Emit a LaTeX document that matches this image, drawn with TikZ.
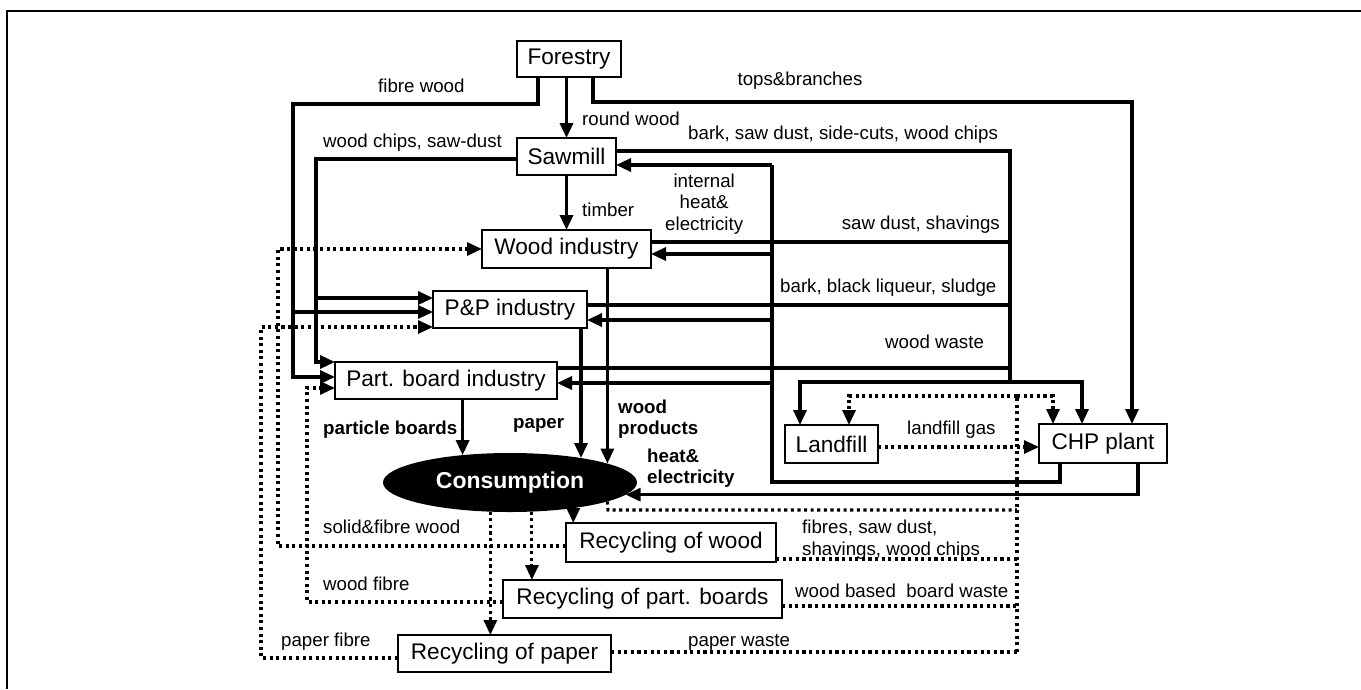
\documentclass[tikz,border=0pt]{standalone}
\usepackage{fontspec}
\setmainfont{Liberation Sans}
\usetikzlibrary{arrows.meta,shapes.geometric}
\newcommand{\labfont}{\fontsize{18.7}{21.5}\selectfont}
\newcommand{\boxfont}{\fontsize{22.6}{26}\selectfont}
\tikzset{
  box/.style={draw, line width=1.8pt, inner sep=0pt, outer sep=0pt, font=\boxfont},
  lab/.style={inner sep=0pt, font=\labfont, align=left},
  blab/.style={inner sep=0pt, font=\labfont\bfseries, align=left},
  sline/.style={line width=3.3pt},
  flow/.style={sline, -{Triangle[length=15pt,width=13pt]}},
  dline/.style={line width=3.1pt, dash pattern=on 3.1pt off 3.5pt},
  dflow/.style={dline, -{Triangle[length=15pt,width=13pt]}}
}
\begin{document}
\begin{tikzpicture}[x=1pt,y=-1pt]
\useasboundingbox (0,0) rectangle (1361,689);
\draw[line width=2pt] (7,689) -- (7,11) -- (1361,11);

% boxes
\node[box, minimum width=104, minimum height=36] (forestry) at (569,59) {Forestry};
\node[box, minimum width=99, minimum height=37] (sawmill) at (566.5,156.5) {Sawmill};
\node[box, minimum width=169, minimum height=38] (woodind) at (566.5,249) {Wood industry};
\node[box, minimum width=154, minimum height=37] (pp) at (510,309.5) {P\&P industry};
\node[box, minimum width=222, minimum height=37] (partboard) at (446,380.5) {Part. board industry};
\node[box, minimum width=93, minimum height=38] (landfill) at (831.5,444) {Landfill};
\node[box, minimum width=128, minimum height=39] (chp) at (1103,443.5) {CHP plant};
\node[ellipse, fill=black, text=white, inner sep=0pt, outer sep=0pt,
      minimum width=254, minimum height=59, font=\fontsize{23}{26}\selectfont\bfseries] (cons) at (510,482.5) {Consumption};
\node[box, minimum width=210, minimum height=39] (recwood) at (671,542.5) {Recycling of wood};
\node[box, minimum width=279, minimum height=38] (recpb) at (642.5,599) {Recycling of part. boards};
\node[box, minimum width=213, minimum height=37] (recpaper) at (504.5,653.5) {Recycling of paper};

% coordinates
\coordinate (fw1) at (538,104); \coordinate (fw2) at (293,104);
\coordinate (fw3) at (293,312);
\coordinate (tb1) at (593,102); \coordinate (tb2) at (1132,102);
\coordinate (wc1) at (316,159); \coordinate (wc2) at (316,362); \coordinate (wc3) at (316,298);
\coordinate (w1) at (1010,151); \coordinate (w2) at (1010,382);
\coordinate (w3) at (1010,242); \coordinate (w4) at (1010,305); \coordinate (w5) at (1010,368);
\coordinate (d1) at (800,382); \coordinate (d2) at (1082,382);
\coordinate (h1) at (1060,482); \coordinate (h2) at (772,482); \coordinate (h3) at (772,165);
\coordinate (h4) at (772,254); \coordinate (h5) at (772,320); \coordinate (h6) at (772,383);
\coordinate (c1) at (1138,0);
\coordinate (lg) at (1000,447);
\coordinate (v1) at (1017,396); \coordinate (v2) at (1017,652);
\coordinate (l1) at (849,396); \coordinate (l2) at (1053,396);
\coordinate (cw) at (608,510);
\coordinate (rw) at (1017,559); \coordinate (rp) at (1017,606);
\coordinate (sf1) at (278,546); \coordinate (sf2) at (278,249);
\coordinate (wf1) at (307,602); \coordinate (wf2) at (307,388);
\coordinate (pf1) at (261,658); \coordinate (pf2) at (261,327);

% solid flows
\draw[flow] (sawmill.north |- forestry.south) -- (sawmill.north);
\draw[flow] (forestry.south -| fw1) -- (fw1) -- (fw2) |- ([yshift=3.5pt]partboard.west);
\draw[flow] (fw3) -- (fw3 -| pp.west);
\draw[flow] (forestry.south -| tb1) -- (tb1) -- (tb2) -- (tb2 |- chp.north);
\draw[flow] (wc1 -| sawmill.west) -- (wc1) -- (wc2) -- (wc2 -| partboard.west);
\draw[flow] (wc3) -- (wc3 -| pp.west);
\draw[flow] (sawmill.south) -- (woodind.north);
\draw[sline] (w1 -| sawmill.east) -- (w1) -- (w2);
\draw[sline] (w3 -| woodind.east) -- (w3);
\draw[sline] (w4 -| pp.east) -- (w4);
\draw[sline] (w5 -| partboard.east) -- (w5);
\draw[flow] (w2) -- (d1) -- (d1 |- landfill.north);
\draw[flow] (w2) -- (d2) -- (d2 |- chp.north);
\draw[sline] (chp.south -| h1) -- (h1) -- (h2) -- (h3);
\draw[flow] (h3) -- (h3 -| sawmill.east);
\draw[flow] (h4) -- (h4 -| woodind.east);
\draw[flow] (h5) -- (h5 -| pp.east);
\draw[flow] (h6) -- (h6 -| partboard.east);
\draw[flow] (chp.south -| c1) -- (c1 |- cons.-6) -- (cons.-6);
\draw[flow] (cons.11 |- woodind.south) -- (cons.11);
\draw[flow] (cons.19 |- pp.south) -- (cons.19);
\draw[flow] (cons.150 |- partboard.south) -- (cons.150);

% dotted flows
\draw[dflow] (lg -| landfill.east) -- (lg -| chp.west);
\draw[dline] (v2) -- (v1);
\draw[dflow] (v1) -- (l1) -- (l1 |- landfill.north);
\draw[dflow] (v1) -- (l2) -- (l2 |- chp.north);
\draw[dline] (cons.-11) -- (cw) -- (cw -| v1);
\draw[dline] (rw -| recwood.east) -- (rw);
\draw[dline] (rp -| recpb.east) -- (rp);
\draw[dline] (v2 -| recpaper.east) -- (v2);
\draw[dflow] (cons.-22) -- (cons.-22 |- recwood.north);
\draw[dflow] (cons.-53) -- (cons.-53 |- recpb.north);
\draw[dflow] (cons.-124) -- (cons.-124 |- recpaper.north);
\draw[dflow] (sf1 -| recwood.west) -- (sf1) -- (sf2) -- (sf2 -| woodind.west);
\draw[dflow] (wf1 -| recpb.west) -- (wf1) -- (wf2) -- (wf2 -| partboard.west);
\draw[dflow] (pf1 -| recpaper.west) -- (pf1) -- (pf2) -- (pf2 -| pp.west);

% labels
\node[lab, anchor=base west] (lfw) at (378,92.5) {fibre wood};
\node[lab, anchor=base] (ltb) at (800,85) {tops\&branches};
\node[lab, anchor=base west] (lrw) at (582,125.5) {round wood};
\node[lab, anchor=base west] (lwc) at (323,147.5) {wood chips, saw-dust};
\node[lab, anchor=base west] (lbs) at (688,139.5) {bark, saw dust, side-cuts, wood chips};
\node[lab, anchor=base west] (ltm) at (582,216.5) {timber};
\node[lab, anchor=west, align=center] (lih) at (665,204) {internal\\heat\&\\electricity};
\node[lab, anchor=base east] (lsd) at (1000,229.5) {saw dust, shavings};
\node[lab, anchor=base west] (lbb) at (780,292.5) {bark, black liqueur, sludge};
\node[lab, anchor=base west] (lww) at (885,348.5) {wood waste};
\node[blab, anchor=base west] (lpb) at (323,434.5) {particle boards};
\node[blab, anchor=base west] (lpa) at (513,428.5) {paper};
\node[blab, anchor=west] (lwp) at (618,419) {wood\\products};
\node[blab, anchor=west] (lhe) at (647,468) {heat\&\\electricity};
\node[lab, anchor=base west] (llg) at (907,434.5) {landfill gas};
\node[lab, anchor=base west] (lsf) at (323,533.5) {solid\&fibre wood};
\node[lab, anchor=west] (lfs) at (802,539.5) {fibres, saw dust,\\shavings, wood chips};
\node[lab, anchor=base west] (lwb) at (795,597.5) {wood based~~board waste};
\node[lab, anchor=base west] (lwf) at (323,590.5) {wood fibre};
\node[lab, anchor=base west] (lpf) at (281,646.5) {paper fibre};
\node[lab, anchor=base west] (lpw) at (688,646.5) {paper waste};
\end{tikzpicture}
\end{document}
